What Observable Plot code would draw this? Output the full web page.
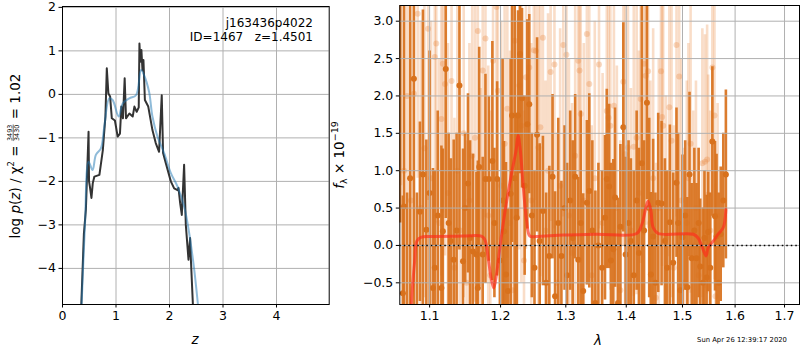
<!DOCTYPE html>
<html><head><meta charset="utf-8">
<script src="https://cdn.jsdelivr.net/npm/d3@7"></script>
<script src="https://cdn.jsdelivr.net/npm/@observablehq/plot@0.6"></script>
<style>
body{margin:0;background:#fff;}
#wrap{position:relative;width:800px;height:350px;font-family:"DejaVu Sans",sans-serif;overflow:hidden;}
#wrap svg{position:absolute;top:0;}
</style></head><body><div id="wrap"></div>
<script>
// ---------- left panel: log p(z) ----------
const zTicks = [0, 1, 2, 3, 4];
const pTicks = [-4, -3, -2, -1, 0, 1, 2];
const blackZ = [0.340,0.352,0.400,0.437,0.487,0.496,0.512,0.541,0.566,0.596,
  0.690,0.754,0.802,0.828,0.858,0.890,0.922,0.980,1.031,1.074,
  1.100,1.130,1.162,1.187,1.250,1.312,1.344,1.387,1.425,1.438,
  1.455,1.475,1.495,1.513,1.540,1.603,1.681,1.743,1.805,1.855,
  1.880,1.930,2.025,2.087,2.150,2.168,2.199,2.230,2.273,2.305,
  2.355,2.385,2.400,2.437,2.450];
const blackV = [-5.2,-4.82,-3.2,-2.65,-0.86,-2.0,-2.12,-2.38,-2.04,-1.89,
  -1.85,-1.28,-0.51,0.6,0.02,-0.05,-0.55,-0.6,-0.97,-0.9,
  -0.28,-0.55,0.37,-0.55,-0.44,-0.51,-0.28,-0.4,-0.3,1.17,
  0.75,1.02,0.55,0.79,-0.13,-0.28,-0.82,-1.12,-1.32,-0.02,
  -1.35,-1.58,-2.0,-2.16,-2.2,-2.15,-2.5,-2.77,-1.62,-3.0,
  -3.8,-3.3,-3.8,-4.82,-5.2];
const blueZ = [0.355,0.420,0.487,0.562,0.624,0.718,0.781,0.875,0.937,1.050,
  1.125,1.250,1.374,1.468,1.525,1.618,1.681,1.775,1.900,2.025,
  2.150,2.274,2.368,2.462,2.525,2.560];
const blueV = [-4.9,-3.0,-1.55,-1.74,-1.39,-1.24,-0.74,-0.09,-0.13,-0.51,
  -0.21,-0.09,-0.02,0.56,0.44,0.06,-0.51,-0.97,-1.35,-1.81,
  -2.12,-2.58,-3.19,-4.03,-4.75,-5.2];

// ---------- right panel: spectrum ----------
const lamTicks = [1.1, 1.2, 1.3, 1.4, 1.5, 1.6, 1.7];
const fTicks = [-0.5, 0.0, 0.5, 1.0, 1.5, 2.0, 2.5, 3.0];
const darkLam = [1.061,1.0645,1.066,1.070,1.074,1.079,1.083,1.087,1.091,1.0956,
  1.100,1.1045,1.107,1.111,1.116,1.118,1.122,1.126,1.129,1.133,
  1.137,1.141,1.146,1.149,1.153,1.156,1.160,1.165,1.167,1.169,
  1.174,1.178,1.183,1.188,1.191,1.195,1.199,1.203,1.205,1.208,
  1.211,1.215,1.217,1.221,1.224,1.226,1.229,1.232,1.236,1.240,
  1.243,1.247,1.251,1.255,1.259,1.264,1.269,1.274,1.279,1.283,
  1.288,1.293,1.298,1.302,1.307,1.311,1.315,1.320,1.324,1.328,
  1.334,1.338,1.343,1.348,1.353,1.359,1.364,1.367,1.371,1.374,
  1.378,1.381,1.386,1.390,1.395,1.399,1.404,1.408,1.413,1.418,
  1.422,1.427,1.431,1.436,1.440,1.443,1.447,1.451,1.456,1.462,
  1.468,1.472,1.477,1.483,1.489,1.492,1.496,1.500,1.505,1.509,
  1.513,1.517,1.522,1.526,1.530,1.533,1.538,1.541,1.545,1.548,
  1.552,1.556,1.561,1.564,1.568,1.572,1.577,1.582];
const darkFlux = [3.5,-0.64,0.52,-1.2,0.9,2.23,-0.9,0.45,0.95,0.21,
  0.7,-0.57,-0.3,0.4,-0.57,0.19,2.36,0.3,0.06,-0.19,
  0.2,2.14,-0.21,0.5,0.83,0.1,-0.08,-0.12,-0.57,1.05,
  -0.12,0.89,0.89,1.13,0.3,0.89,-0.2,0.6,0.19,-0.39,
  -0.61,0.69,1.74,0.9,0.37,1.74,2.56,1.97,0.8,1.62,
  1.89,0.4,-0.3,1.48,0.06,0.46,-0.5,-0.14,0.92,-0.68,
  0.3,-0.14,0.5,-0.4,0.6,0.1,0.92,-0.19,0.3,-0.61,
  0.57,0.73,0.2,-0.77,0.0,-0.3,0.37,0.89,0.79,-0.2,
  -0.05,0.64,-0.77,0.25,1.58,-0.12,0.3,0.06,-0.4,0.6,
  -0.1,1.1,0.2,1.91,0.5,-0.39,0.12,-0.5,0.57,0.56,
  0.06,-0.3,0.31,-0.23,0.84,0.3,-0.6,0.11,0.4,-0.56,
  0.95,-0.17,0.2,-0.17,0.3,-0.28,-0.5,0.1,-0.43,0.18,
  -0.3,1.39,0.39,0.12,-0.5,0.15,0.6,0.95];
const darkErr = [3.2,1.3,2.9,1.9,3.0,3.1,1.6,1.2,2.2,1.2,
  1.9,1.6,1.3,1.4,1.9,1.1,2.0,1.2,1.1,1.6,
  1.3,2.2,1.5,1.0,1.2,1.3,1.3,1.1,1.7,1.6,
  1.3,1.4,1.1,1.6,1.0,1.3,1.1,1.9,1.2,1.5,
  1.1,1.8,1.7,2.4,1.4,1.4,1.6,1.2,1.2,1.4,
  1.2,1.1,1.3,1.3,1.3,1.0,1.2,1.2,1.1,1.4,
  1.4,1.0,1.1,1.5,1.2,1.3,1.1,1.1,1.5,1.3,
  1.1,1.3,1.2,1.5,1.1,1.3,1.1,1.2,1.1,1.3,
  1.2,1.2,1.4,1.1,1.4,1.3,1.1,1.1,1.4,1.2,
  1.4,2.1,1.2,1.3,1.2,1.1,1.3,1.2,1.2,1.1,
  1.1,1.3,1.3,1.2,1.0,1.2,1.1,1.1,1.0,1.2,
  1.1,1.0,1.1,1.0,1.0,0.9,1.0,0.9,1.1,0.8,
  1.0,1.0,1.0,1.1,1.2,0.9,0.9,1.13];
const lightLam = [1.062,1.066,1.070,1.075,1.079,1.084,1.088,1.093,1.098,1.102,
  1.107,1.109,1.113,1.116,1.118,1.121,1.125,1.130,1.134,1.138,
  1.142,1.147,1.151,1.155,1.159,1.163,1.167,1.171,1.174,1.178,
  1.182,1.185,1.189,1.194,1.196,1.201,1.206,1.210,1.214,1.218,
  1.221,1.225,1.228,1.231,1.235,1.238,1.243,1.246,1.250,1.253,
  1.257,1.260,1.264,1.268,1.272,1.276,1.282,1.286,1.291,1.296,
  1.301,1.305,1.310,1.315,1.320,1.322,1.324,1.329,1.334,1.338,
  1.342,1.347,1.354,1.360,1.367,1.370,1.373,1.379,1.384,1.390,
  1.395,1.398,1.403,1.408,1.413,1.418,1.422,1.425,1.431,1.434,
  1.438,1.442,1.447,1.452,1.457,1.461,1.463,1.465,1.470,1.476,
  1.480,1.484,1.489,1.494,1.498,1.503,1.508,1.511,1.515,1.520,
  1.525,1.530,1.537,1.542,1.546,1.548,1.552,1.556,1.560,1.562,
  1.566];
const lightFlux = [3.3,1.0,2.0,0.6,2.03,3.1,0.5,1.3,2.9,0.9,
  2.52,2.7,0.3,1.69,2.43,2.16,0.7,2.2,-0.3,1.0,
  0.2,1.5,-0.5,0.6,1.2,1.44,2.87,0.0,2.34,2.77,
  0.4,-0.4,2.47,3.19,2.07,0.8,1.36,1.83,0.3,-0.6,
  2.74,1.0,2.14,1.6,-0.2,2.25,2.38,0.6,2.61,2.6,
  1.31,1.58,2.78,0.2,1.0,2.32,2.42,-0.5,0.8,2.68,
  2.55,0.4,-0.1,1.2,2.47,2.34,1.76,0.6,2.83,2.16,
  -0.4,0.9,2.42,0.3,1.8,1.71,1.6,1.87,0.5,-0.6,
  2.19,1.22,1.31,0.2,1.32,1.44,0.7,1.96,2.43,2.27,
  2.33,0.3,0.9,-0.7,0.5,2.33,1.72,1.6,0.1,1.85,
  1.4,-0.3,2.68,2.26,0.6,-0.5,0.3,0.9,1.36,0.0,
  0.5,-0.4,1.1,1.12,1.15,0.68,0.2,2.38,1.74,-0.68,
  0.4];
const lightErr = [2.5,2.6,2.2,2.4,2.0,2.2,2.5,2.0,2.3,2.1,
  2.0,2.4,2.2,2.1,2.0,2.3,2.0,2.1,2.0,2.4,
  2.0,2.2,1.9,2.1,2.0,2.2,2.3,2.1,2.0,2.4,
  2.0,2.2,2.1,2.3,2.0,2.2,2.1,2.0,2.3,2.1,
  2.4,2.0,2.2,2.1,2.0,2.3,2.0,2.1,2.2,2.0,
  2.1,2.0,2.3,2.0,2.1,2.0,2.2,2.0,2.1,2.3,
  2.0,2.1,2.0,2.1,2.2,2.0,2.0,2.1,2.2,2.0,
  2.0,2.1,2.2,2.0,2.1,2.0,2.2,2.0,1.9,2.0,
  2.2,2.0,2.1,1.9,2.0,2.1,1.9,2.2,2.3,2.0,
  2.1,1.9,2.0,1.8,2.0,2.2,2.0,2.1,1.9,2.0,
  2.1,1.9,2.3,2.1,1.9,1.8,1.9,1.8,2.0,1.8,
  1.7,1.7,1.8,1.7,1.8,1.6,1.6,1.9,2.2,1.5,
  1.5];
const modelLam = [1.070,1.0756,1.080,1.083,1.089,1.100,1.146,1.172,1.177,1.182,
  1.186,1.190,1.194,1.199,1.206,1.216,1.223,1.226,1.229,1.234,
  1.239,1.244,1.254,1.296,1.350,1.418,1.427,1.434,1.438,1.443,
  1.447,1.456,1.520,1.529,1.537,1.544,1.548,1.558,1.567,1.577,
  1.582];
const modelFlux = [-2.0,-0.79,-0.21,0.06,0.11,0.12,0.125,0.125,0.08,-0.17,
  -0.43,-0.57,-0.39,-0.03,0.42,0.95,1.27,1.47,1.31,0.77,
  0.33,0.125,0.12,0.14,0.15,0.16,0.28,0.5,0.59,0.46,
  0.24,0.16,0.15,0.1,-0.03,-0.14,-0.03,0.06,0.15,0.24,
  0.48];

const ORANGE = "#d8711c";
const LIGHT = "#e8863a";
const GRID = "#b0b0b0";

const blackData = blackZ.map((z, i) => ({z, v: blackV[i]}));
const blueData = blueZ.map((z, i) => ({z, v: blueV[i]}));
const dark = darkLam.map((lam, i) => ({lam, f: darkFlux[i], e: darkErr[i]}));
const light = lightLam.map((lam, i) => ({lam, f: lightFlux[i], e: lightErr[i]}));
const model = modelLam.map((lam, i) => ({lam, f: modelFlux[i]}));

const style = {fontFamily: "DejaVu Sans", fontSize: "12.5px", color: "black", background: "white", overflow: "visible"};
const fmtInt = d3.format("d");
const fmt1 = d3.format(".1f");

const wrap = document.getElementById("wrap");

const left = Plot.plot({
  width: 340, height: 350,
  marginLeft: 62, marginRight: 11.3, marginTop: 6, marginBottom: 46,
  style,
  x: {domain: [0, 4.985], ticks: zTicks, tickFormat: fmtInt, tickSize: 3.5, tickPadding: 3, label: null},
  y: {domain: [-4.83, 2.02], ticks: pTicks, tickFormat: fmtInt, tickSize: 3.5, tickPadding: 3, label: null},
  marks: [
    Plot.ruleX(zTicks, {stroke: GRID, strokeWidth: 1}),
    Plot.ruleY(pTicks, {stroke: GRID, strokeWidth: 1}),
    Plot.line(blackData, {x: "z", y: "v", stroke: "#333333", strokeWidth: 2, clip: true}),
    Plot.line(blueData, {x: "z", y: "v", stroke: "#1f77b4", strokeOpacity: 0.5, strokeWidth: 2, curve: "catmull-rom", clip: true}),
    Plot.frame({stroke: "black", strokeWidth: 1})
  ]
});
left.style.left = "0px";
wrap.appendChild(left);

const right = Plot.plot({
  width: 460, height: 350,
  marginLeft: 59.3, marginRight: 1, marginTop: 5, marginBottom: 46,
  style,
  x: {type: "log", domain: [1.0605, 1.7315], ticks: lamTicks, tickFormat: fmt1, tickSize: 3.5, tickPadding: 3, label: null},
  y: {domain: [-0.79, 3.21], ticks: fTicks, tickFormat: fmt1, tickSize: 3.5, tickPadding: 3, label: null},
  marks: [
    Plot.ruleX(light, {x: "lam", y1: d => d.f - d.e, y2: d => d.f + d.e, stroke: LIGHT, strokeOpacity: 0.28, strokeWidth: 2.6, clip: true}),
    Plot.dot(light, {x: "lam", y: "f", r: 3, fill: LIGHT, fillOpacity: 0.3, clip: true}),
    Plot.ruleX(dark, {x: "lam", y1: d => d.f - d.e, y2: d => d.f + d.e, stroke: ORANGE, strokeOpacity: 0.92, strokeWidth: 2.6, clip: true}),
    Plot.dot(dark, {x: "lam", y: "f", r: 3, fill: ORANGE, clip: true}),
    Plot.ruleX(lamTicks, {stroke: GRID, strokeWidth: 1}),
    Plot.ruleY(fTicks, {stroke: GRID, strokeWidth: 1}),
    Plot.line(model, {x: "lam", y: "f", stroke: "#ff2a1a", strokeOpacity: 0.65, strokeWidth: 3, curve: "catmull-rom", clip: true}),
    Plot.ruleY([0], {stroke: "black", strokeWidth: 1.6, strokeDasharray: "1.5,3"}),
    Plot.frame({stroke: "black", strokeWidth: 1})
  ]
});
right.style.left = "340px";
wrap.appendChild(right);

// ---------- text overlay ----------
const ov = d3.select(wrap).append("svg")
  .attr("width", 800).attr("height", 350)
  .style("left", "0px").style("pointer-events", "none")
  .attr("font-family", "DejaVu Sans").attr("fill", "black");

ov.append("text").attr("x", 313).attr("y", 27).attr("text-anchor", "end").attr("font-size", 12).text("j163436p4022");
ov.append("text").attr("x", 313).attr("y", 41).attr("text-anchor", "end").attr("font-size", 12).text("ID=1467\u00a0\u00a0\u00a0z=1.4501");
ov.append("text").attr("x", 195).attr("y", 344).attr("text-anchor", "middle").attr("font-size", 13.5).attr("font-style", "italic").text("z");
ov.append("text").attr("x", 598).attr("y", 345).attr("text-anchor", "middle").attr("font-size", 13.5).attr("font-style", "italic").text("λ");
ov.append("text").attr("x", 742).attr("y", 342).attr("text-anchor", "middle").attr("font-size", 6.8).text("Sun Apr 26 12:39:17 2020");

function rotLabel(cx, cy, pieces) {
  const g = ov.append("g").attr("transform", `translate(${cx},${cy}) rotate(-90)`);
  const inner = g.append("g");
  let x = 0;
  for (const p of pieces) {
    if (p.frac) {
      const n = inner.append("text").attr("x", x).attr("y", p.ny).attr("font-size", p.size).text(p.num);
      const d = inner.append("text").attr("x", x).attr("y", p.dy).attr("font-size", p.size).text(p.den);
      const w = Math.max(n.node().getComputedTextLength(), d.node().getComputedTextLength());
      inner.append("line").attr("x1", x).attr("x2", x + w).attr("y1", p.by).attr("y2", p.by)
        .attr("stroke", "black").attr("stroke-width", 0.6);
      x += w + 1;
    } else {
      const t = inner.append("text").attr("x", x).attr("y", p.y || 0).attr("font-size", p.size)
        .attr("font-style", p.italic ? "italic" : null).text(p.t);
      x += t.node().getComputedTextLength();
    }
  }
  inner.attr("transform", `translate(${-x / 2},0)`);
}

rotLabel(19.5, 156, [
  {t: "log\u00a0", size: 13.5},
  {t: "p", size: 13.5, italic: true},
  {t: "(", size: 13.5},
  {t: "z", size: 13.5, italic: true},
  {t: ")\u00a0/\u00a0χ", size: 13.5},
  {t: "2", size: 8.5, y: -6},
  {t: "\u00a0=\u00a0", size: 13.5},
  {frac: true, num: "3493", den: "3430", size: 6.5, ny: -7.2, dy: -0.9, by: -6.3},
  {t: "\u00a0=\u00a01.02", size: 13.5}
]);

rotLabel(343.5, 155, [
  {t: "f", size: 13.5, italic: true},
  {t: "λ", size: 9.5, y: 3},
  {t: "\u00a0×\u00a010", size: 13.5},
  {t: "−19", size: 9.5, y: -6}
]);
</script></body></html>
